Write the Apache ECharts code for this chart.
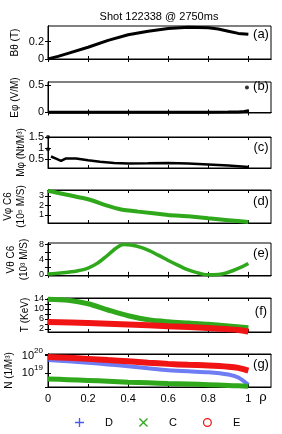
<!DOCTYPE html>
<html><head><meta charset="utf-8">
<script src="https://cdn.jsdelivr.net/npm/echarts@6/dist/echarts.min.js"></script>
<style>html,body{margin:0;padding:0;background:#fff}#c{width:282px;height:434px}</style>
</head><body><div id="c"></div>
<script>
// ---- data ----
const rhoA = [0, 0.05, 0.1, 0.2, 0.3, 0.4, 0.5, 0.6, 0.7, 0.8, 0.85, 0.9, 0.95, 1.0];
const bTheta = [0, 0.03, 0.065, 0.135, 0.215, 0.28, 0.32, 0.35, 0.365, 0.36, 0.345, 0.32, 0.295, 0.285];
const rhoB = [0, 0.2, 0.4, 0.6, 0.8, 0.9, 0.95, 0.98, 1.0];
const ePhi = [0.002, 0.004, 0.005, 0.004, 0.004, 0.006, 0.01, 0.018, 0.03];
const ePhiDot = [[0.993, 0.45]];
const rhoC = [0.015, 0.04, 0.065, 0.09, 0.14, 0.2, 0.26, 0.33, 0.4, 0.5, 0.6, 0.7, 0.8, 0.9, 1.0];
const mPhi = [0.62, 0.52, 0.42, 0.53, 0.53, 0.45, 0.38, 0.33, 0.3, 0.31, 0.33, 0.3, 0.26, 0.21, 0.15];
const mPhiDots = [[0, 1.5], [0, 0.95]];
const rhoD = [0, 0.1, 0.2, 0.3, 0.36, 0.45, 0.6, 0.7, 0.8, 0.9, 1.0];
const vPhi = [3.55, 3.1, 2.65, 1.95, 1.6, 1.35, 1.0, 0.85, 0.65, 0.45, 0.25];
const rhoE = [0, 0.05, 0.1, 0.15, 0.2, 0.25, 0.3, 0.35, 0.38, 0.42, 0.46, 0.5, 0.55, 0.6, 0.65, 0.7, 0.75, 0.8, 0.85, 0.9, 0.95, 1.0];
const vTheta = [0.2, 0.4, 0.7, 1.1, 1.8, 3.2, 5.3, 7.4, 8.0, 7.8, 7.3, 6.5, 5.2, 3.8, 2.5, 1.3, 0.5, 0.0, 0.1, 0.7, 1.7, 3.0];
const rhoT = [0, 0.1, 0.2, 0.3, 0.4, 0.5, 0.6, 0.7, 0.8, 0.9, 1.0];
const tC = [13.8, 13.4, 12.0, 9.5, 7.2, 5.6, 4.8, 4.3, 3.8, 3.1, 2.4];
const rhoTE = [0, 0.2, 0.4, 0.6, 0.8, 0.9, 0.95, 1.0];
const tE = [4.7, 4.3, 3.7, 3.0, 2.3, 1.8, 1.5, 0.9];
const rhoN = [0, 0.1, 0.2, 0.3, 0.4, 0.5, 0.6, 0.7, 0.8, 0.9, 0.95, 1.0];
const nD = [5.75e19, 4.79e19, 3.98e19, 3.16e19, 2.51e19, 1.91e19, 1.48e19, 1.26e19, 1.12e19, 8.3e18, 5.6e18, 2.1e18];
const nE = [8.5e19, 7.6e19, 6.6e19, 5.6e19, 4.8e19, 4.0e19, 3.4e19, 3.0e19, 2.75e19, 2.35e19, 2.0e19, 1.4e19];
const nC = [4.6e18, 4.2e18, 3.8e18, 3.4e18, 3.0e18, 2.75e18, 2.5e18, 2.35e18, 2.15e18, 1.95e18, 1.85e18, 1.75e18];
const xTicks = [0, 0.2, 0.4, 0.6, 0.8, 1];
const panelNames = ['Bθ (T)', 'Eφ (V/M)', 'Mφ (Nt/M³)', 'Vφ C6\n(10⁵ M/S)', 'Vθ C6\n(10³ M/S)', 'T (KeV)', 'N (1/M³)'];
const panelTags = ['(a)', '(b)', '(c)', '(d)', '(e)', '(f)', '(g)'];
const legendNames = ['D', 'C', 'E'];
const titleText = 'Shot 122338 @ 2750ms';

// ---- layout / styles ----
const FONT = 'Liberation Sans, Arial, sans-serif';
const tops = [26, 82, 137, 190, 243, 298, 354];
const heights = [33, 31, 31, 33, 33, 34, 33];
const tagY = [34.5, 86, 147, 201, 253, 311, 364];
const nameX = [15, 15, 21, 15, 18, 25, 9];
const yCfg = [
  {min: 0, max: 0.38, ticks: [0, 0.2], labels: [0, 0.2], fs: 11},
  {min: -0.01, max: 0.55, ticks: [0, 0.5], labels: [0, 0.5], fs: 11},
  {min: 0.1, max: 1.5, ticks: [0.5, 1, 1.5], labels: [0.5, 1, 1.5], fs: 11},
  {min: 0.15, max: 3.63, ticks: [1, 2, 3], labels: [1, 2, 3], fs: 9},
  {min: -0.3, max: 8.4, ticks: [0, 2, 4, 6, 8], labels: [0, 4, 8], fs: 9},
  {min: 0.7, max: 14.3, ticks: [2, 4, 6, 8, 10, 12, 14], labels: [2, 6, 10, 14], fs: 9},
  {min: 1.585e18, max: 1.259e20, log: true}
];
const BLUE = '#4a5cf0', GREEN = '#2fa81c', RED = '#f01414';
const zip = (xs, ys) => xs.map((x, i) => [x, ys[i]]);

const grids = [], xAxes = [], yAxes = [], series = [];
for (let i = 0; i < 7; i++) {
  grids.push({left: 48, width: 223, top: tops[i], height: heights[i], show: true, borderColor: '#000', borderWidth: 1, backgroundColor: 'transparent'});
  ['bottom', 'top'].forEach(pos => {
    xAxes.push({type: 'value', gridIndex: i, min: 0, max: 1.113, position: pos,
      axisLine: {lineStyle: {color: '#000', width: 1}},
      axisTick: {inside: true, length: 3, customValues: xTicks, lineStyle: {color: '#000'}},
      axisLabel: {show: i === 6 && pos === 'bottom', customValues: xTicks, color: '#000', fontSize: 11, fontFamily: FONT, margin: 6},
      splitLine: {show: false}});
  });
  const c = yCfg[i];
  ['left', 'right'].forEach(pos => {
    const ax = {gridIndex: i, min: c.min, max: c.max, position: pos,
      axisLine: {show: true, lineStyle: {color: '#000', width: 1}},
      splitLine: {show: false}};
    if (c.log) {
      ax.type = 'log'; ax.logBase = 10;
      ax.axisTick = {inside: true, length: 3, lineStyle: {color: '#000'}};
      ax.axisLabel = {show: pos === 'left', color: '#000', fontFamily: FONT, margin: 5, hideOverlap: false,
        formatter: v => '{b|10}{s|' + Math.round(Math.log10(v)) + '}',
        rich: {b: {fontSize: 11, fontFamily: FONT, color: '#000'}, s: {fontSize: 8, fontFamily: FONT, color: '#000', padding: [0, 0, 10, 0]}}};
    } else {
      ax.type = 'value';
      ax.axisTick = {inside: true, length: 3, customValues: c.ticks, lineStyle: {color: '#000'}};
      ax.axisLabel = {show: pos === 'left', customValues: c.labels, color: '#000', fontSize: c.fs, fontFamily: FONT, margin: 4,
        hideOverlap: false, showMinLabel: true, showMaxLabel: true};
    }
    yAxes.push(ax);
  });
}
const X = i => i * 2, Y = i => i * 2;
series.push({type: 'line', xAxisIndex: X(0), yAxisIndex: Y(0), data: zip(rhoA, bTheta), symbol: 'none', lineStyle: {color: '#000', width: 3}});
series.push({type: 'line', xAxisIndex: X(1), yAxisIndex: Y(1), data: zip(rhoB, ePhi), symbol: 'none', lineStyle: {color: '#000', width: 3}});
series.push({type: 'scatter', xAxisIndex: X(1), yAxisIndex: Y(1), data: ePhiDot, symbolSize: 4, itemStyle: {color: '#000'}});
series.push({type: 'line', xAxisIndex: X(2), yAxisIndex: Y(2), data: zip(rhoC, mPhi), symbol: 'none', lineStyle: {color: '#000', width: 2.5}});
series.push({type: 'scatter', xAxisIndex: X(2), yAxisIndex: Y(2), data: mPhiDots, symbolSize: 4, itemStyle: {color: '#000'}});
series.push({type: 'line', xAxisIndex: X(3), yAxisIndex: Y(3), data: zip(rhoD, vPhi), symbol: 'none', smooth: 0.2, lineStyle: {color: GREEN, width: 4}});
series.push({type: 'line', xAxisIndex: X(4), yAxisIndex: Y(4), data: zip(rhoE, vTheta), symbol: 'none', smooth: 0.5, lineStyle: {color: GREEN, width: 3.5}});
series.push({name: 'C', type: 'line', xAxisIndex: X(5), yAxisIndex: Y(5), data: zip(rhoT, tC), symbol: 'none', smooth: 0.3, lineStyle: {color: GREEN, width: 5}, itemStyle: {color: GREEN}});
series.push({name: 'E', type: 'line', xAxisIndex: X(5), yAxisIndex: Y(5), data: zip(rhoTE, tE), symbol: 'none', smooth: 0.3, lineStyle: {color: RED, width: 6}, itemStyle: {color: RED}});
series.push({name: 'D', type: 'line', xAxisIndex: X(6), yAxisIndex: Y(6), data: zip(rhoN, nD), symbol: 'none', smooth: 0.3, lineStyle: {color: BLUE, width: 4, opacity: 0.8}, itemStyle: {color: BLUE}});
series.push({name: 'E', type: 'line', xAxisIndex: X(6), yAxisIndex: Y(6), data: zip(rhoN, nE), symbol: 'none', smooth: 0.3, lineStyle: {color: RED, width: 6}, itemStyle: {color: RED}});
series.push({name: 'C', type: 'line', xAxisIndex: X(6), yAxisIndex: Y(6), data: zip(rhoN, nC), symbol: 'none', smooth: 0.3, lineStyle: {color: GREEN, width: 5}, itemStyle: {color: GREEN}});

const graphics = panelTags.map((t, i) => ({type: 'text', x: 261, y: tagY[i], style: {text: t, fill: '#000', font: '13px ' + FONT, textAlign: 'center', textVerticalAlign: 'middle'}}));
panelNames.forEach((t, i) => graphics.push({type: 'text', x: nameX[i], y: tops[i] + heights[i] / 2, rotation: Math.PI / 2,
  style: {text: t, fill: '#000', font: '10px ' + FONT, lineHeight: 13, textAlign: 'center', textVerticalAlign: 'middle'}}));
graphics.push({type: 'text', x: 263, y: 397, style: {text: 'ρ', fill: '#000', font: '13px ' + FONT, textAlign: 'center', textVerticalAlign: 'middle'}});

const icons = {
  D: 'path://M4.25,0H5.75V4.25H10V5.75H5.75V10H4.25V5.75H0V4.25H4.25Z',
  C: 'path://M1,0L5,4L9,0L10,1L6,5L10,9L9,10L5,6L1,10L0,9L4,5L0,1Z',
  E: 'path://M0,5A5,5,0,1,1,10,5A5,5,0,1,1,0,5ZM1.4,5A3.6,3.6,0,1,0,8.6,5A3.6,3.6,0,1,0,1.4,5Z'
};
const legendColors = {D: BLUE, C: GREEN, E: RED};

const chart = echarts.init(document.getElementById('c'), null, {renderer: 'canvas'});
chart.setOption({
  animation: false,
  backgroundColor: '#fff',
  title: {text: titleText, left: 154, top: 6, textAlign: 'center', textStyle: {fontSize: 11, fontWeight: 'normal', color: '#000', fontFamily: FONT}},
  legend: {left: 75, top: 417, padding: 0, itemWidth: 9, itemHeight: 9, itemGap: 26,
    data: legendNames.map(n => ({name: n, icon: icons[n], itemStyle: {color: legendColors[n], borderWidth: 0}})),
    textStyle: {fontSize: 11, color: '#000', fontFamily: FONT, padding: [0, 0, 0, 16]}},
  grid: grids, xAxis: xAxes, yAxis: yAxes, series: series, graphic: graphics
});
</script></body></html>
